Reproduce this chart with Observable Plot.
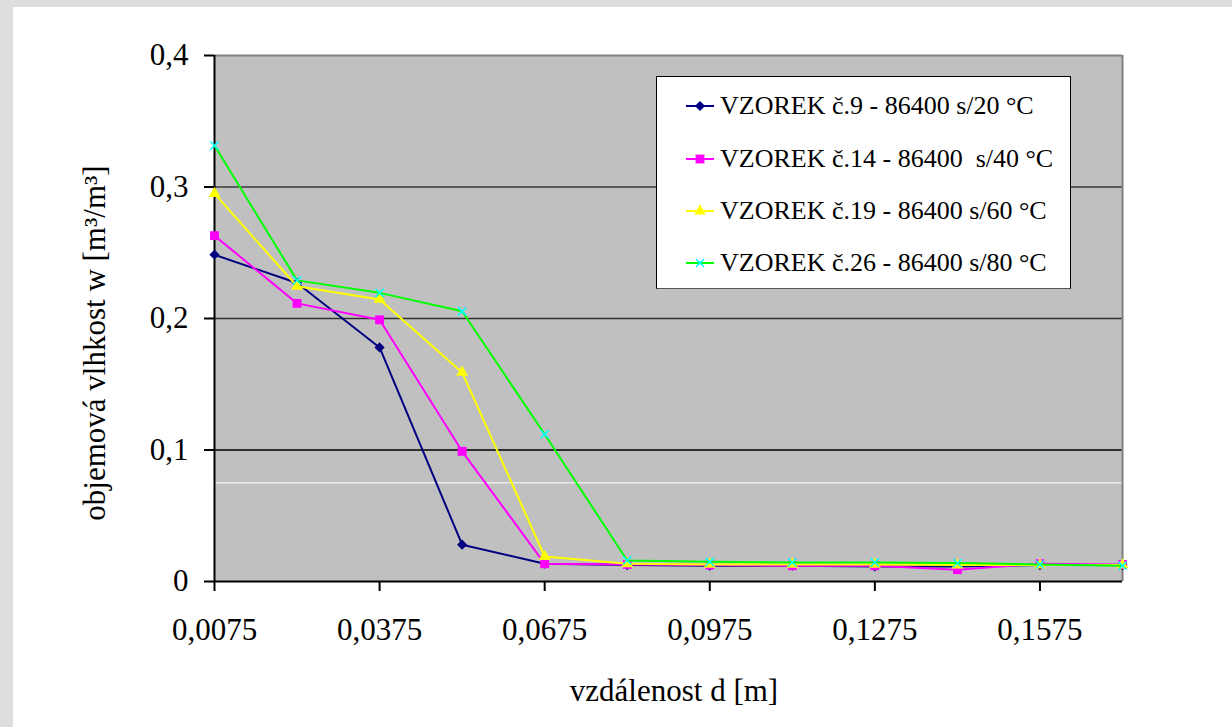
<!DOCTYPE html>
<html>
<head>
<meta charset="utf-8">
<script src="https://cdn.jsdelivr.net/npm/d3@7"></script>
<script src="https://cdn.jsdelivr.net/npm/@observablehq/plot@0.6"></script>
<style>
  body { margin: 0; background: #ffffff; }
  #wrap { position: relative; width: 1232px; height: 727px; overflow: hidden; font-family: "Liberation Serif", "Times New Roman", serif; color: #000; }
  #wrap svg.plot { position: absolute; left: 0; top: 0; }
  .strip { position: absolute; background: #dedede; }
  .title { position: absolute; white-space: nowrap; font-size: 31px; line-height: 1; }
  #legend { position: absolute; left: 656px; top: 76px; width: 415px; height: 213px; box-sizing: border-box; border: 1.5px solid #000; border-bottom-color: #555; background: #fff; }
  .lrow { position: absolute; left: 29px; height: 30px; display: flex; align-items: center; font-size: 26px; white-space: pre; }
  .lrow svg { margin-right: 6px; }
</style>
</head>
<body>
<div id="wrap"></div>
<script>
// distance d [m] (category positions)
const distances = [0.0075, 0.0225, 0.0375, 0.0525, 0.0675, 0.0825, 0.0975, 0.1125, 0.1275, 0.1425, 0.1575, 0.1725];
// series names
const seriesNames = [
  "VZOREK č.9 - 86400 s/20 °C",
  "VZOREK č.14 - 86400  s/40 °C",
  "VZOREK č.19 - 86400 s/60 °C",
  "VZOREK č.26 - 86400 s/80 °C"
];
// volumetric moisture w [m3/m3]
const s9  = [0.2485, 0.227, 0.178, 0.028, 0.0135, 0.0125, 0.012, 0.012, 0.0115, 0.0115, 0.0125, 0.0125];
const s14 = [0.263, 0.2115, 0.199, 0.099, 0.0135, 0.013, 0.0125, 0.012, 0.012, 0.009, 0.0135, 0.013];
const s19 = [0.295, 0.2245, 0.2145, 0.159, 0.019, 0.0135, 0.013, 0.013, 0.013, 0.0125, 0.0125, 0.0125];
const s26 = [0.3315, 0.229, 0.2195, 0.2055, 0.112, 0.016, 0.015, 0.0145, 0.0145, 0.014, 0.013, 0.012];
// ticks
const xTicks = [0.0075, 0.0375, 0.0675, 0.0975, 0.1275, 0.1575];
const yTicks = [0, 0.1, 0.2, 0.3, 0.4];
const gridValues = [0.1, 0.2, 0.3];
const whiteLine = [0.075];
// styling per series
const lineColors = ["#000080", "#ff00ff", "#ffff00", "#00ff00"];
const markColors = ["#000080", "#ff00ff", "#ffff00", "#00ffff"];
const symbols = ["diamond2", "square", "triangle", "times"];
const radii = [4.6, 5.0, 4.4, 3.8];

(function () {
const allSeries = [s9, s14, s19, s26];
const tables = allSeries.map((vals, i) => vals.map((v, j) => ({series: seriesNames[i], x: distances[j], y: v})));

const comma = d => String(d).replace(".", ",");

const seriesMarks = [];
tables.forEach((t, i) => {
  seriesMarks.push(Plot.line(t, {x: "x", y: "y", stroke: lineColors[i], strokeWidth: 2}));
  if (symbols[i] === "times") {
    seriesMarks.push(Plot.dot(t, {x: "x", y: "y", symbol: "times", r: radii[i], stroke: markColors[i], strokeWidth: 1.5, fill: "none"}));
  } else {
    seriesMarks.push(Plot.dot(t, {x: "x", y: "y", symbol: symbols[i], r: radii[i], fill: markColors[i], stroke: "none"}));
  }
});

const plot = Plot.plot({
  width: 1232,
  height: 727,
  marginLeft: 214,
  marginRight: 110,
  marginTop: 55,
  marginBottom: 146,
  style: {fontFamily: "Liberation Serif", fontSize: "31px", background: "white", color: "black", overflow: "visible"},
  x: {domain: [distances[0], distances[distances.length - 1]]},
  y: {domain: [0, 0.4]},
  marks: [
    Plot.frame({fill: "#c0c0c0", stroke: "none"}),
    Plot.ruleY(whiteLine, {stroke: "white", strokeWidth: 1}),
    Plot.ruleY(gridValues, {stroke: d => d === 0.3 ? "#5a5a5a" : d === 0.2 ? "#303030" : "#000", strokeWidth: d => d === 0.3 ? 2 : 1.3}),
    Plot.ruleY([0.4], {stroke: "#808080", strokeWidth: 2}),
    Plot.ruleX([distances[distances.length - 1]], {stroke: "#808080", strokeWidth: 2}),
    Plot.axisX({ticks: xTicks, tickFormat: comma, tickSize: 10, tickPadding: 26, fontSize: 31, label: null, strokeWidth: 2}),
    Plot.axisY({ticks: yTicks, tickFormat: comma, tickSize: 10, tickPadding: 16, fontSize: 31, label: null, strokeWidth: 2}),
    Plot.ruleX([distances[0]], {stroke: "black", strokeWidth: 2}),
    Plot.ruleY([0], {stroke: "black", strokeWidth: 2}),
    ...seriesMarks
  ]
});
plot.classList.add("plot");

const wrap = document.getElementById("wrap");
wrap.appendChild(plot);

// gray outer strips
const topStrip = document.createElement("div");
topStrip.className = "strip";
Object.assign(topStrip.style, {left: "0px", top: "0px", width: "1232px", height: "7px"});
wrap.appendChild(topStrip);
const leftStrip = document.createElement("div");
leftStrip.className = "strip";
Object.assign(leftStrip.style, {left: "0px", top: "0px", width: "13px", height: "727px"});
wrap.appendChild(leftStrip);

// axis titles
const xt = document.createElement("div");
xt.className = "title";
xt.textContent = "vzdálenost d [m]";
Object.assign(xt.style, {left: "674px", top: "690px", transform: "translate(-50%,-50%)"});
wrap.appendChild(xt);
const yt = document.createElement("div");
yt.className = "title";
yt.textContent = "objemová vlhkost w [m³/m³]";
Object.assign(yt.style, {left: "94px", top: "343px", transform: "translate(-50%,-50%) rotate(-90deg)"});
wrap.appendChild(yt);

// legend
const legend = document.createElement("div");
legend.id = "legend";
const rowTops = [14, 67, 119, 171];
const symMap = {diamond2: d3.symbolDiamond2, square: d3.symbolSquare, triangle: d3.symbolTriangle, times: d3.symbolTimes};
seriesNames.forEach((name, i) => {
  const row = document.createElement("div");
  row.className = "lrow";
  row.style.top = rowTops[i] + "px";
  const svg = d3.create("svg").attr("width", 28).attr("height", 16);
  svg.append("line").attr("x1", 0).attr("x2", 28).attr("y1", 8).attr("y2", 8).attr("stroke", lineColors[i]).attr("stroke-width", 2);
  const size = Math.PI * radii[i] * radii[i];
  const p = svg.append("path").attr("transform", "translate(14,8)").attr("d", d3.symbol(symMap[symbols[i]], size)());
  if (symbols[i] === "times") p.attr("stroke", markColors[i]).attr("stroke-width", 1.5).attr("fill", "none");
  else p.attr("fill", markColors[i]);
  row.appendChild(svg.node());
  const span = document.createElement("span");
  span.textContent = name;
  row.appendChild(span);
  legend.appendChild(row);
});
wrap.appendChild(legend);
})();
</script>
</body>
</html>
